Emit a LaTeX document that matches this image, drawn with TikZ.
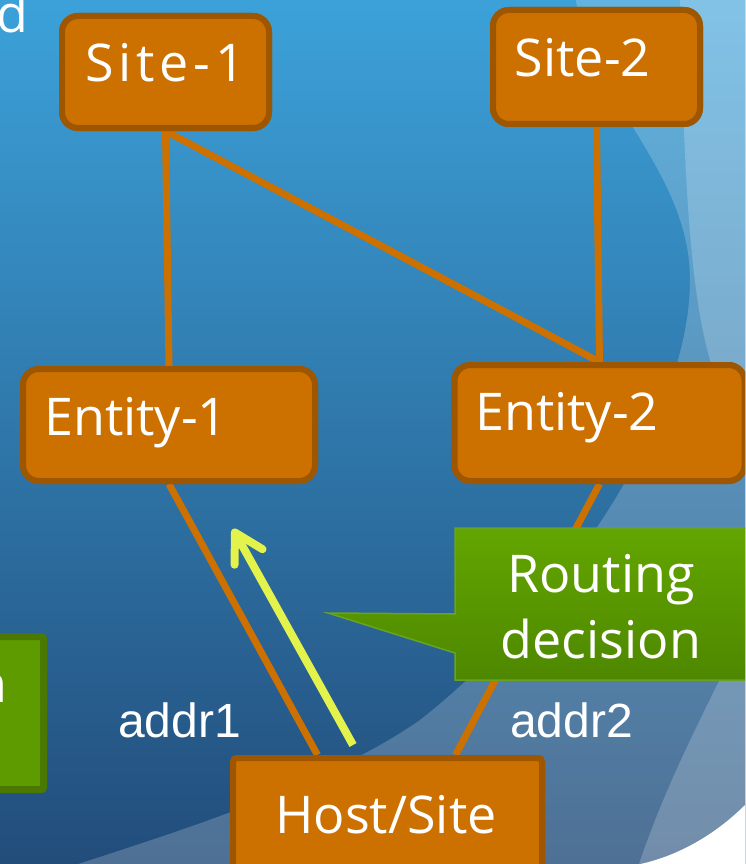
\documentclass[tikz,border=0pt]{standalone}
\usepackage{fontspec}
\setmainfont{Open Sans}
\newfontfamily\arialfont{Liberation Sans}
\usetikzlibrary{arrows.meta}
\definecolor{bgtop}{RGB}{60,162,218}
\definecolor{bgbot}{RGB}{34,76,122}
\definecolor{orfill}{RGB}{204,112,0}
\definecolor{ordraw}{RGB}{158,86,0}
\definecolor{gnfill}{RGB}{94,155,0}
\definecolor{gndraw}{RGB}{74,120,0}
\definecolor{gntop}{RGB}{99,166,0}
\definecolor{gnbot}{RGB}{78,135,0}
\definecolor{gnedge}{RGB}{104,164,34}
\definecolor{ylw}{RGB}{228,242,76}
\begin{document}
\begin{tikzpicture}[x=1pt,y=-1pt,
  box/.style={draw=ordraw, fill=orfill, line width=6pt, rounded corners=16pt, inner sep=0pt},
  lbl/.style={text=white, font=\fontsize{52}{62}\selectfont, inner sep=0pt, anchor=base west},
  addr/.style={text=white, font=\arialfont\fontsize{48}{56}\selectfont, inner sep=0pt, anchor=base west},
  link/.style={draw=orfill, line width=7pt},
  swoosh/.style={fill=white, fill opacity=0.2}]
\useasboundingbox (0,0) rectangle (745,864);
\clip (0,0) rectangle (745,864);
% background
\fill[top color=bgtop,bottom color=bgbot] (-5,-5) rectangle (750,870);
\fill[swoosh] (575,-5) .. controls (590,100) and (690,170) .. (690,280)
  .. controls (690,420) and (560,610) .. (420,720)
  .. controls (320,790) and (150,840) .. (60,870) -- (760,870) -- (760,-5) -- cycle;
\fill[swoosh] (680,-5) .. controls (684,180) and (690,290) .. (710,360)
  .. controls (730,430) and (780,480) .. (780,545)
  .. controls (780,600) and (735,650) .. (717,685)
  .. controls (690,740) and (660,800) .. (637,870) -- (760,870) -- (760,-5) -- cycle;
\fill[white] (745,805) .. controls (720,830) and (680,858) .. (630,866) -- (760,870) -- (760,805) -- cycle;

% nodes (placed first so connectors can refer to them)
\node[box, minimum width=207pt, minimum height=112pt] (s1) at (165.5,72) {};
\node[box, minimum width=207pt, minimum height=114pt] (s2) at (596.5,67) {};
\node[box, minimum width=292pt, minimum height=112pt] (e1) at (169,425) {};
\node[box, minimum width=290pt, minimum height=116pt] (e2) at (599.5,423) {};
\node[box, rounded corners=4pt, minimum width=309pt, minimum height=142pt] (h) at (387.5,829) {};

% connectors
\draw[link] (s1.south) -- (e1.north);
\draw[link] (s1.south) -- (e2.north);
\draw[link] (s2.south) -- (e2.north);
\draw[link] (e1.south) -- ([xshift=-70pt]h.north);
\draw[link] (e2.south) -- ([xshift=68pt]h.north);

% boxes again on top of the connector ends
\node[box, minimum width=207pt, minimum height=112pt] (s1b) at (s1) {};
\node[box, minimum width=207pt, minimum height=114pt] (s2b) at (s2) {};
\node[box, minimum width=292pt, minimum height=112pt] (e1b) at (e1) {};
\node[box, minimum width=290pt, minimum height=116pt] (e2b) at (e2) {};
\node[box, rounded corners=4pt, minimum width=309pt, minimum height=142pt] (hb) at (h) {};

\node[lbl, font=\fontsize{52}{62}\selectfont\addfontfeature{LetterSpace=9}] (s1t) at (85.6,82) {Site-1};
\node[lbl] (s2t) at (514.6,77) {Site-2};
\node[lbl] (e1t) at (44,435) {Entity-1};
\node[lbl] (e2t) at (475,430) {Entity-2};
\node[lbl, anchor=base] (ht) at (386,833) {Host/Site};

% left partial green box and partial texts
\draw[fill=gnfill, draw=gndraw, line width=7pt, rounded corners=2pt] (-20,636.5) rectangle (43.5,789.5);
\node[lbl, anchor=base east] (ntxt) at (7.6,702) {n};
\node[lbl, anchor=base east] (dtxt) at (28.7,33) {d};

% address labels
\node[addr] (a1) at (118,737) {addr1};
\node[addr] (a2) at (510,737) {addr2};

% yellow arrow
\coordinate (ya) at (353,745);
\coordinate (yb) at (233,529);
\draw[ylw, line width=8pt, -{Straight Barb[length=28pt,width=32pt,round]}] (ya) -- (yb);

% callout
\path[top color=gntop, bottom color=gnbot, draw=gnedge, line width=1.5pt]
  (455,528) -- (760,528) -- (760,680) -- (455,680) -- (455,653) -- (328,613) -- (455,614) -- cycle;
\node[lbl, anchor=base] (rd1) at (601,592) {Routing};
\node[lbl, anchor=base] (rd2) at (601,658) {decision};
\end{tikzpicture}
\end{document}
